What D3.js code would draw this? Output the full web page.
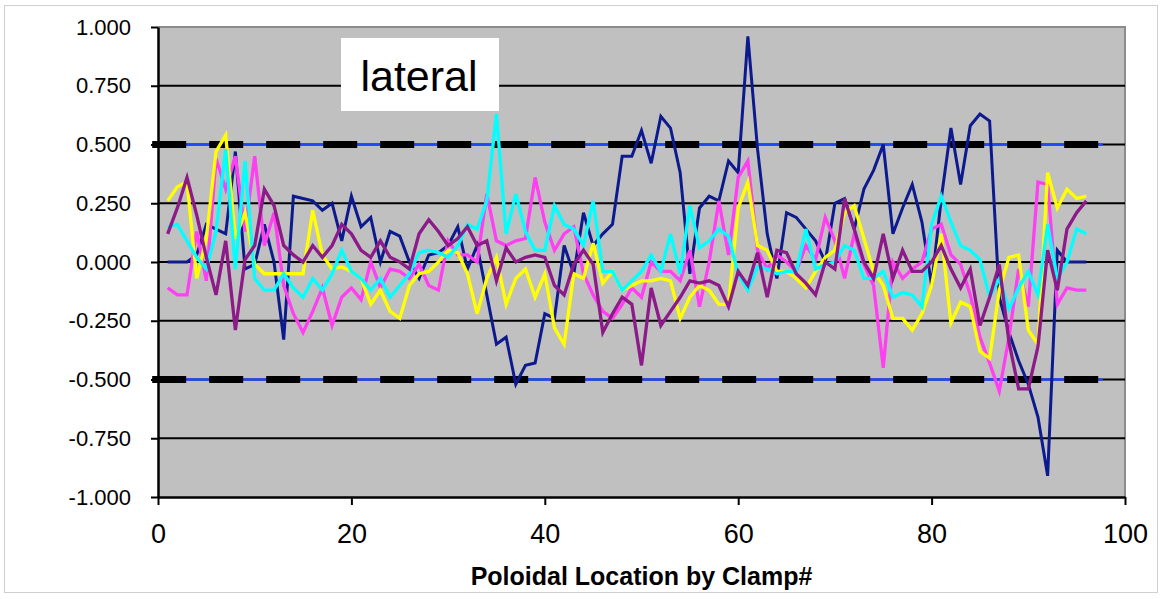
<!DOCTYPE html>
<html>
<head>
<meta charset="utf-8">
<script src="https://cdn.jsdelivr.net/npm/d3@7"></script>
<style>
    body { margin: 0; background: #ffffff; }
    svg { display: block; font-family: "Liberation Sans", Arial, sans-serif; }
</style>
</head>
<body>
<svg id="chart" width="1161" height="599"></svg>
<script>
const svg = d3.select("#chart");
const width = +svg.attr("width");
const height = +svg.attr("height");

const margin = {
    "T": 27,
    "B": 102,
    "R": 36,
    "L": 158,
};

// ---- DATA ---- //

const clamps = d3.range(1, 97);

const navy = [
    0, 0, 0, 0.03, 0.16, 0.14, 0.12, 0.47, -0.03, -0.01,
    0.16, 0.0, -0.33, 0.28, 0.27, 0.26, 0.22, 0.25, 0.09, 0.28,
    0.15, 0.19, 0.0, 0.13, 0.11, 0.0, -0.07, 0.03, 0.04, 0.07,
    0.15, -0.03, 0.07, -0.14, -0.35, -0.32, -0.52, -0.44, -0.43, -0.22,
    -0.24, 0.07, -0.05, 0.21, 0.07, 0.12, 0.16, 0.45, 0.45, 0.56,
    0.42, 0.62, 0.57, 0.38, -0.05, 0.23, 0.28, 0.26, 0.43, 0.38,
    0.96, 0.48, 0.12, -0.07, 0.21, 0.19, 0.14, 0.09, 0.0, 0.25,
    0.27, 0.14, 0.31, 0.39, 0.5, 0.12, 0.23, 0.33, 0.17, -0.1,
    0.27, 0.57, 0.33, 0.58, 0.63, 0.6, -0.15, -0.3, -0.42, -0.52,
    -0.66, -0.91, 0.05, 0, 0, 0
];

const yellow = [
    0.26, 0.32, 0.34, -0.07, 0.1, 0.47, 0.54, 0.1, 0.21, -0.01,
    -0.05, -0.05, -0.05, -0.05, -0.05, 0.22, 0.03, -0.03, -0.02, -0.04,
    -0.07, -0.18, -0.12, -0.21, -0.24, -0.1, -0.05, -0.04, 0.0, 0.05,
    0.04, -0.05, -0.22, -0.07, 0.02, -0.18, -0.07, -0.03, -0.15, -0.05,
    -0.28, -0.35, -0.05, -0.07, 0.08, -0.09, -0.04, -0.12, -0.1, -0.08,
    -0.08, -0.07, -0.08, -0.24, -0.15, -0.1, -0.12, -0.18, -0.18, 0.23,
    0.34, 0.07, 0.05, -0.04, -0.04, -0.07, -0.11, -0.04, 0.02, 0.05,
    0.21, 0.24, 0.1, -0.04, -0.1, -0.24, -0.24, -0.29, -0.22, -0.1,
    0.12, -0.26, -0.17, -0.19, -0.38, -0.41, -0.12, 0.02, 0.03, -0.29,
    -0.35, 0.38, 0.23, 0.31, 0.27, 0.28
];

const magenta = [
    -0.11, -0.14, -0.14, 0.13, -0.08, 0.44, 0.31, 0.45, 0.13, 0.45,
    0.07, 0.21, -0.1, -0.22, -0.3, -0.21, -0.11, -0.27, -0.15, -0.11,
    -0.16, 0.0, -0.11, -0.03, -0.04, -0.07, -0.01, -0.1, -0.12, 0.09,
    0.03, 0.03, 0.0, 0.29, 0.09, 0.07, 0.09, 0.1, 0.36, 0.17,
    0.05, 0.12, 0.15, -0.05, -0.14, -0.21, -0.24, -0.18, -0.11, -0.15,
    0.0, -0.04, -0.04, -0.08, 0.05, -0.19, 0.0, 0.26, 0.03, 0.36,
    0.43, 0.05, -0.03, 0.03, 0.0, -0.04, 0.07, 0.01, 0.19, 0.09,
    -0.07, 0.12, -0.01, -0.1, -0.45, 0.0, -0.07, -0.03, 0.0, 0.14,
    0.16, 0.03, -0.01, -0.14, -0.32, -0.43, -0.55, -0.32, -0.03, -0.19,
    0.34, 0.33, -0.18, -0.11, -0.12, -0.12
];

const cyan = [
    0.15, 0.16, 0.09, 0.02, -0.03, 0.13, 0.48, -0.03, 0.43, -0.07,
    -0.12, -0.12, -0.05, -0.11, -0.15, -0.07, -0.12, -0.05, 0.05, -0.04,
    -0.07, -0.12, -0.07, -0.15, -0.1, -0.05, 0.04, 0.05, 0.04, 0.02,
    0.07, 0.16, 0.14, 0.26, 0.63, 0.12, 0.29, 0.13, 0.05, 0.05,
    0.24, 0.16, 0.14, 0.07, 0.26, -0.04, -0.04, -0.12, -0.08, -0.04,
    0.03, -0.04, 0.12, -0.05, 0.24, 0.06, 0.09, 0.14, 0.11, -0.05,
    -0.12, -0.02, -0.03, -0.05, -0.04, -0.04, 0.14, -0.03, -0.01, 0.0,
    0.07, 0.05, -0.07, -0.07, -0.04, -0.15, -0.13, -0.14, -0.19, 0.16,
    0.28, 0.17, 0.07, 0.05, 0.01, -0.15, -0.07, -0.2, -0.11, -0.04,
    -0.14, 0.16, -0.07, 0.0, 0.14, 0.12
];

const purple = [
    0.12, 0.23, 0.36, 0.2, 0.02, -0.14, 0.09, -0.29, 0.01, 0.07,
    0.31, 0.24, 0.07, 0.03, 0.0, 0.07, 0.02, 0.07, 0.16, 0.12,
    0.05, 0.02, 0.09, 0.02, 0.0, -0.03, 0.12, 0.18, 0.13, 0.07,
    0.1, 0.15, 0.07, 0.09, -0.08, 0.06, 0.0, 0.02, 0.03, 0.02,
    -0.1, -0.14, -0.01, 0.05, -0.01, -0.3, -0.22, -0.15, -0.18, -0.44,
    -0.11, -0.27, -0.21, -0.15, -0.08, -0.09, -0.08, -0.1, -0.19, -0.04,
    -0.1, 0.04, -0.15, 0.05, 0.04, -0.05, -0.09, -0.14, 0.0, -0.03,
    0.27, 0.14, 0.0, -0.07, 0.12, -0.07, 0.05, -0.04, -0.04, 0.0,
    0.07, -0.03, -0.11, -0.03, -0.27, -0.15, -0.01, -0.34, -0.54, -0.54,
    -0.36, 0.05, -0.12, 0.14, 0.21, 0.26
];

// limit lines at +/- 0.5, drawn from clamp -0.6 to 97.7
const limits = [0.5, -0.5];
const limitSpan = [-0.6, 97.7];

const xTicks = [0, 20, 40, 60, 80, 100];
const yTicks = [-1, -0.75, -0.5, -0.25, 0, 0.25, 0.5, 0.75, 1];

const series = [
    { "name": "navy", "values": navy, "color": "#0c1a8e", "w": 3 },
    { "name": "magenta", "values": magenta, "color": "#ff40f2", "w": 3.3 },
    { "name": "yellow", "values": yellow, "color": "#ffff00", "w": 3.3 },
    { "name": "cyan", "values": cyan, "color": "#00ffff", "w": 3.3 },
    { "name": "purple", "values": purple, "color": "#8c1a88", "w": 3.3 },
];

// ---- SCALES ---- //

const xScale = d3.scaleLinear()
    .domain([0, 100])
    .range([margin.L, width - margin.R]);
const yScale = d3.scaleLinear()
    .domain([-1, 1])
    .range([height - margin.B, margin.T]);

// outer frame
svg.append("rect")
    .attr("x", 4.5)
    .attr("y", 5.5)
    .attr("width", width - 8)
    .attr("height", height - 12)
    .attr("fill", "#ffffff")
    .attr("stroke", "#cfcfcf");

// plot area
svg.append("rect")
    .attr("x", xScale(0))
    .attr("y", yScale(1))
    .attr("width", xScale(100) - xScale(0))
    .attr("height", yScale(-1) - yScale(1))
    .attr("fill", "#c0c0c0");

svg.append("path")
    .attr("d", `M${xScale(0)},${yScale(1)}H${xScale(100)}V${yScale(-1)}`)
    .attr("fill", "none")
    .attr("stroke", "#8c8c8c")
    .attr("stroke-width", 2);

// ---- GRID ---- //

svg.append("g")
    .selectAll("line")
    .data(yTicks.filter(d => Math.abs(d) < 1))
    .enter()
    .append("line")
        .attr("x1", xScale(0))
        .attr("x2", xScale(100))
        .attr("y1", d => yScale(d))
        .attr("y2", d => yScale(d))
        .attr("stroke", "#000000")
        .attr("stroke-width", 2);

// ---- LIMIT LINES ---- //

const limitG = svg.append("g");
limitG.selectAll(".limit-blue")
    .data(limits)
    .enter()
    .append("line")
        .attr("class", "limit-blue")
        .attr("x1", xScale(limitSpan[0]))
        .attr("x2", xScale(limitSpan[1]))
        .attr("y1", d => yScale(d))
        .attr("y2", d => yScale(d))
        .attr("stroke", "#1f48ff")
        .attr("stroke-width", 2.5);
limitG.selectAll(".limit-dash")
    .data(limits)
    .enter()
    .append("line")
        .attr("class", "limit-dash")
        .attr("x1", xScale(limitSpan[0]))
        .attr("x2", xScale(limitSpan[1]))
        .attr("y1", d => yScale(d))
        .attr("y2", d => yScale(d))
        .attr("stroke", "#000000")
        .attr("stroke-width", 7)
        .attr("stroke-dasharray", "34,23");

// ---- LINES ---- //

const line = d3.line()
    .x((d, i) => xScale(clamps[i]))
    .y(d => yScale(d));

svg.append("g")
    .selectAll("path")
    .data(series)
    .enter()
    .append("path")
        .attr("class", d => `${d.name}-path`)
        .attr("d", d => line(d.values))
        .attr("fill", "none")
        .attr("stroke", d => d.color)
        .attr("stroke-width", d => d.w)
        .attr("stroke-linejoin", "miter");

// ---- AXES ---- //

const yAxis = d3.axisLeft(yScale)
    .tickValues(yTicks)
    .tickFormat(d => d.toFixed(3))
    .tickSize(7)
    .tickSizeOuter(0)
    .tickPadding(20);
const xAxis = d3.axisBottom(xScale)
    .tickValues(xTicks)
    .tickSize(8)
    .tickSizeOuter(0)
    .tickPadding(19);

const gy = svg.append("g")
    .attr("class", "y-axis")
    .attr("transform", `translate(${xScale(0)}, 0)`)
    .call(yAxis);
const gx = svg.append("g")
    .attr("class", "x-axis")
    .attr("transform", `translate(0, ${yScale(-1)})`)
    .call(xAxis);

[gx, gy].forEach(g => {
    g.select(".domain").attr("stroke", "#000000").attr("stroke-width", 2.5);
    g.selectAll(".tick line").attr("stroke", "#000000").attr("stroke-width", 2);
    g.selectAll(".tick text").attr("fill", "#000000");
});
gy.selectAll(".tick text")
    .style("font-family", "'Liberation Sans', Arial, sans-serif")
    .style("font-size", "22px");
gx.selectAll(".tick text")
    .style("font-family", "'Liberation Sans Narrow', 'Liberation Sans', Arial, sans-serif")
    .style("font-size", "27px");

// ---- TEXT ---- //

svg.append("text")
    .attr("x", (xScale(0) + xScale(100)) / 2)
    .attr("y", 585)
    .attr("text-anchor", "middle")
    .style("font-size", "25px")
    .style("font-weight", "bold")
    .text("Poloidal Location by Clamp#");

svg.append("rect")
    .attr("x", 341)
    .attr("y", 38)
    .attr("width", 158)
    .attr("height", 73)
    .attr("fill", "#ffffff");
svg.append("text")
    .attr("x", 419)
    .attr("y", 91)
    .attr("text-anchor", "middle")
    .style("font-size", "43px")
    .text("lateral");
</script>
</body>
</html>
